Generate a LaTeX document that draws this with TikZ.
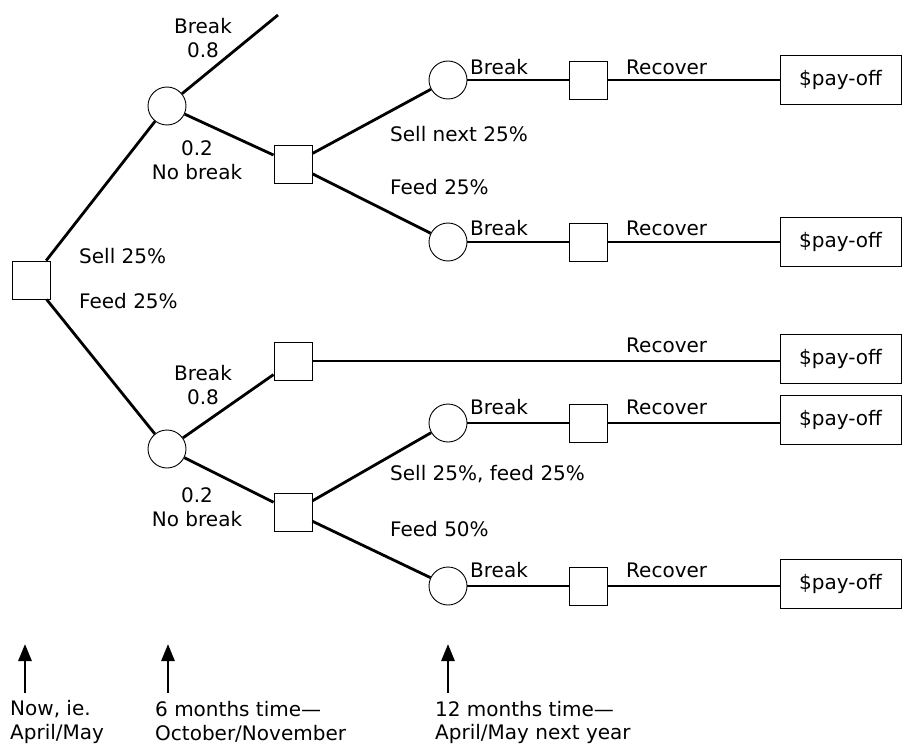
\documentclass[tikz,border=0pt]{standalone}
\usepackage{fontspec}
\setmainfont{DejaVu Sans}
\usetikzlibrary{arrows.meta}
\begin{document}
\begin{tikzpicture}[x=1pt,y=-1pt,
  font=\fontsize{20}{24}\selectfont,
  decision/.style={draw,line width=0.9pt,minimum size=38pt,inner sep=0pt,fill=white},
  chance/.style={draw,circle,line width=0.9pt,minimum size=38pt,inner sep=0pt,fill=white},
  payoff/.style={draw,line width=0.9pt,minimum width=121pt,minimum height=49pt,inner sep=0pt,fill=white},
  branch/.style={line width=2.8pt},
  lbl/.style={inner sep=0pt,anchor=west},
  plbl/.style={inner sep=0pt,align=center},
  timearrow/.style={line width=2.8pt,-{Triangle[width=13pt,length=17pt]}}]
\useasboundingbox (0,0) rectangle (902,746);

% decision and chance nodes
\node[decision] (root) at (31,280) {};
\node[chance]   (c1)   at (167,106) {};
\node[decision] (d1)   at (293,164) {};
\node[chance]   (c2)   at (448,80) {};
\node[decision] (d2)   at (588,80) {};
\node[payoff]   (p1)   at (840.5,80) {\$pay-off};
\node[chance]   (c3)   at (448,242) {};
\node[decision] (d3)   at (588,242) {};
\node[payoff]   (p2)   at (840.5,242) {\$pay-off};
\node[decision] (d4)   at (293,361) {};
\node[payoff]   (p3)   at (840.5,359) {\$pay-off};
\node[chance]   (c4)   at (167,449) {};
\node[decision] (d5)   at (293,512) {};
\node[chance]   (c5)   at (448,423) {};
\node[decision] (d6)   at (588,423) {};
\node[payoff]   (p4)   at (840.5,420) {\$pay-off};
\node[chance]   (c6)   at (448,586) {};
\node[decision] (d7)   at (588,586) {};
\node[payoff]   (p5)   at (840.5,584) {\$pay-off};
\coordinate (brk) at (278,15);

% branches
\draw[branch] (root) -- (c1);
\draw[branch] (root) -- (c4);
\draw[branch] (c1) -- (brk);
\draw[branch] (c1) -- (d1);
\draw[branch] (d1) -- (c2);
\draw[branch] (d1) -- (c3);
\draw[branch] (c2) -- (d2);
\draw[branch] (d2) -- (d2 -| p1.west);
\draw[branch] (c3) -- (d3);
\draw[branch] (d3) -- (d3 -| p2.west);
\draw[branch] (c4) -- (d4);
\draw[branch] (c4) -- (d5);
\draw[branch] (d4) -- (d4 -| p3.west);
\draw[branch] (d5) -- (c5);
\draw[branch] (d5) -- (c6);
\draw[branch] (c5) -- (d6);
\draw[branch] (d6) -- (d6 -| p4.west);
\draw[branch] (c6) -- (d7);
\draw[branch] (d7) -- (d7 -| p5.west);

% branch labels
\node[plbl] (l1) at (203,38) {Break\\0.8};
\node[plbl] (l2) at (197,160) {0.2\\No break};
\node[lbl] (l3) at (79,256) {Sell 25\%};
\node[lbl] (l4) at (79,301) {Feed 25\%};
\node[lbl] (l5) at (390,134) {Sell next 25\%};
\node[lbl] (l6) at (390,187) {Feed 25\%};
\node[lbl] (l7) at (470,67) {Break};
\node[lbl] (l8) at (626,67) {Recover};
\node[lbl] (l9) at (470,228) {Break};
\node[lbl] (l10) at (626,228) {Recover};
\node[lbl] (l11) at (626,345) {Recover};
\node[plbl] (l12) at (203,385) {Break\\0.8};
\node[plbl] (l13) at (197,507) {0.2\\No break};
\node[lbl] (l14) at (470,407) {Break};
\node[lbl] (l15) at (626,407) {Recover};
\node[lbl] (l16) at (390,474) {Sell 25\%, feed 25\%};
\node[lbl] (l17) at (390,529) {Feed 50\%};
\node[lbl] (l18) at (470,570) {Break};
\node[lbl] (l19) at (626,570) {Recover};

% time markers
\node[lbl] (t1a) at (10,709) {Now, ie.};
\node[lbl] (t1b) at (10,734) {April/May};
\node[lbl] (t2a) at (155,709) {6 months time—};
\node[lbl] (t2b) at (155,734) {October/November};
\node[lbl] (t3a) at (435,709) {12 months time—};
\node[lbl] (t3b) at (435,734) {April/May next year};
\coordinate (a1s) at (25,693);  \coordinate (a1e) at (25,644);
\coordinate (a2s) at (168,693); \coordinate (a2e) at (168,644);
\coordinate (a3s) at (448,693); \coordinate (a3e) at (448,644);
\draw[timearrow] (a1s) -- (a1e);
\draw[timearrow] (a2s) -- (a2e);
\draw[timearrow] (a3s) -- (a3e);
\end{tikzpicture}
\end{document}
